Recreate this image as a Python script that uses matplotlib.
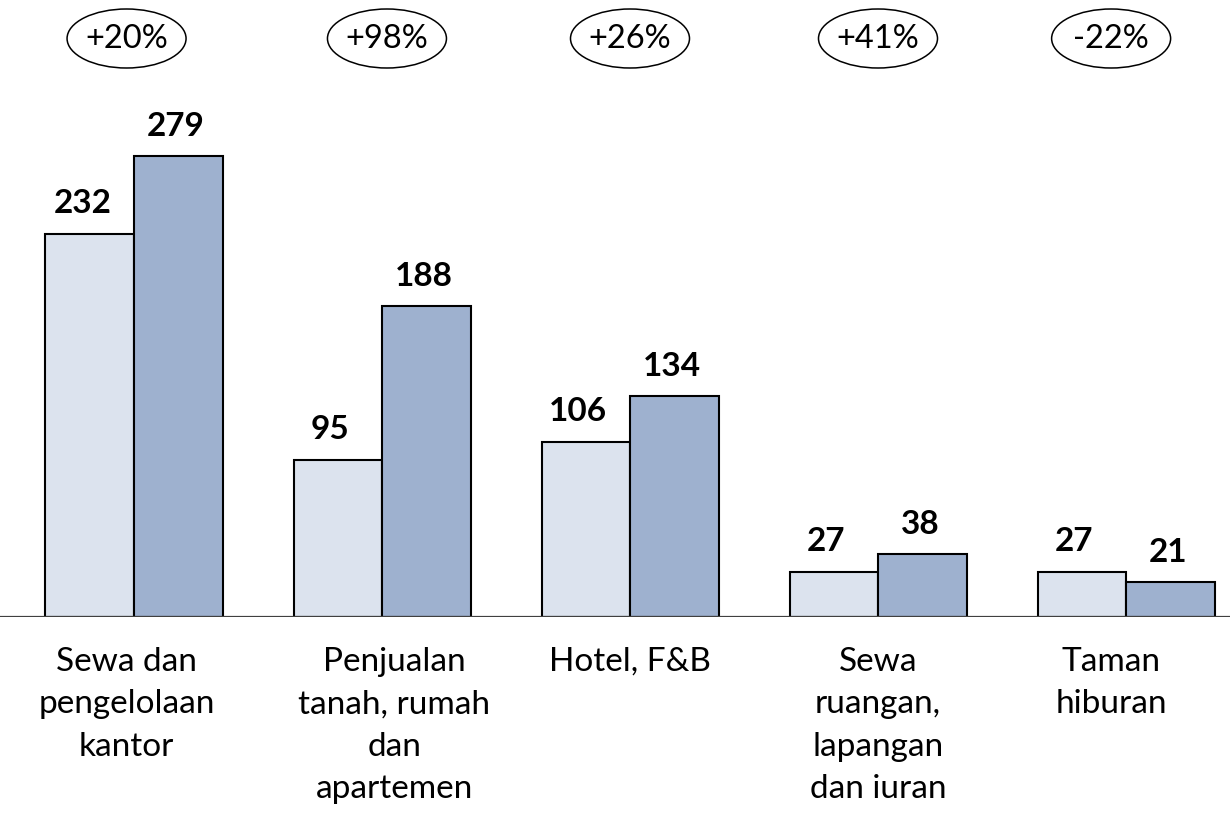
import matplotlib
matplotlib.use("Agg")
import matplotlib.pyplot as plt
from matplotlib.patches import Ellipse
import numpy as np

categories = ["Sewa dan\npengelolaan\nkantor", "Penjualan\ntanah, rumah\ndan\napartemen",
              "Hotel, F&B", "Sewa\nruangan,\nlapangan\ndan iuran", "Taman\nhiburan"]
values_prev = [232, 95, 106, 27, 27]
values_curr = [279, 188, 134, 38, 21]
changes = ["+20%", "+98%", "+26%", "+41%", "-22%"]

plt.rcParams['font.family'] = ['Lato', 'DejaVu Sans']

W, H = 1230, 813
fig = plt.figure(figsize=(W / 100, H / 100), dpi=100)
base_px = 617
ax = fig.add_axes([0, (H - base_px) / H, 1, base_px / H])

px_per_unit = 1.652
ymax = base_px / px_per_unit
group_px = 248.0
x0_px = 134.0
ax.set_xlim(-x0_px / group_px, (W - x0_px) / group_px)
ax.set_ylim(0, ymax)

x = np.arange(len(categories))
bw = 88.5 / group_px
light = "#DCE3EE"
dark = "#9EB1CF"
ax.bar(x - bw / 2, values_prev, width=bw, color=light, edgecolor="black", linewidth=1.5, zorder=2)
ax.bar(x + bw / 2, values_curr, width=bw, color=dark, edgecolor="black", linewidth=1.5, zorder=2)

ax.axhline(0, color="#404040", linewidth=1.6, zorder=3)

def d(px):
    return px / px_per_unit

for i in range(len(categories)):
    ax.text(x[i] - bw / 2 - 0.03, values_prev[i] + d(21), str(values_prev[i]), ha="center", va="baseline",
            fontsize=24, fontweight="bold")
    ax.text(x[i] + bw / 2 - 0.01, values_curr[i] + d(20), str(values_curr[i]), ha="center", va="baseline",
            fontsize=24, fontweight="bold")

ell_off = [-0.03, 0.02, 0.0, 0.0, -0.06]
lab_off = [-0.03, 0.05, 0.0, 0.0, -0.06]
for i in range(len(categories)):
    cx = x[i] + ell_off[i]
    cy = d(base_px - 38.5)
    e = Ellipse((cx, cy), width=119 / group_px, height=d(59), facecolor="none",
                edgecolor="black", linewidth=1.1, clip_on=False)
    ax.add_patch(e)
    ax.text(cx, cy - d(1), changes[i], ha="center", va="center", fontsize=23.5)
    ax.text(x[i] + lab_off[i], d(-30), categories[i], ha="center", va="top", fontsize=24,
            linespacing=1.52, clip_on=False)

ax.axis("off")
fig.savefig("out.png", dpi=100)
